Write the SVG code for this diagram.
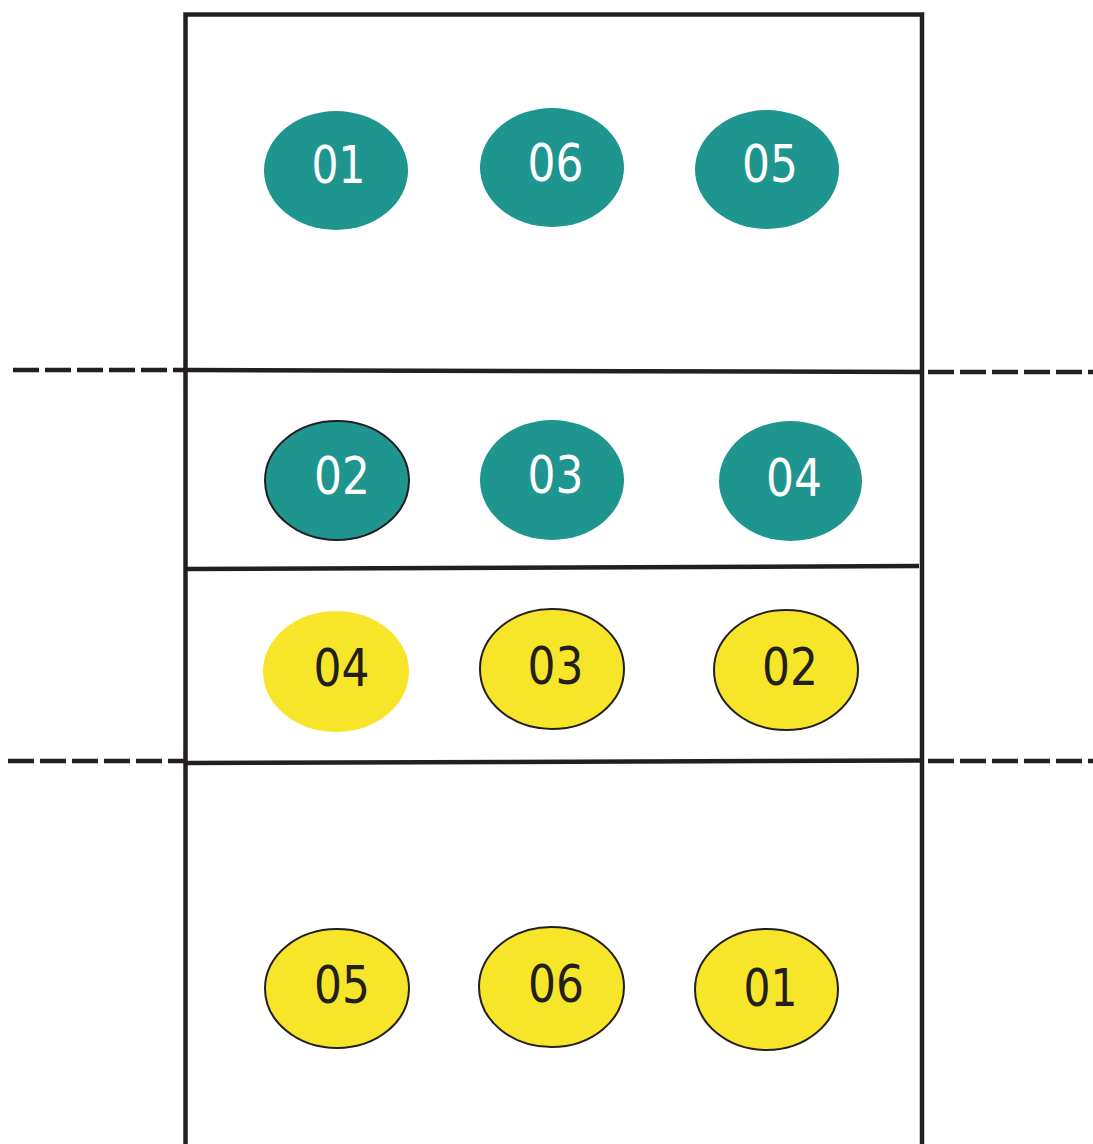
<svg xmlns="http://www.w3.org/2000/svg" width="1093" height="1144" viewBox="0 0 1093 1144">
<style>
.court{fill:none;stroke:#231F20;stroke-width:4.5;}
.dash{fill:none;stroke:#231F20;stroke-width:4.5;stroke-dasharray:26 6;}
.teal{fill:#1F958F;}
.yel{fill:#F7E52A;}
.ol{stroke:#231F20;stroke-width:2;}
.lbl{font-family:"DejaVu Sans",sans-serif;font-size:51px;text-anchor:middle;}
.w{fill:#FFFFFF;}
.d{fill:#231F20;}
</style>
<rect width="1093" height="1144" fill="#FFFFFF"/>
<g id="court">
<path class="court" d="M185.5 1150 V14.5 H922 V1150"/>
</g>
<g id="connectors">
<path class="court" d="M185.5 370 L922 372"/>
<path class="court" d="M185.5 569 L919 566"/>
<path class="court" d="M185.5 763 L922 760.5"/>
<path class="dash" d="M13 370 H185"/>
<path class="dash" d="M928 372 H1093"/>
<path class="dash" d="M8 761 H185"/>
<path class="dash" d="M928 761 H1093"/>
</g>
<g id="t01"><ellipse class="teal" cx="336" cy="170.5" rx="72" ry="59.5"/><text class="lbl w" x="338.5" y="183" textLength="54" lengthAdjust="spacingAndGlyphs">01</text></g>
<g id="t06"><ellipse class="teal" cx="552" cy="167.5" rx="72" ry="59.5"/><text class="lbl w" x="555.5" y="181" textLength="56" lengthAdjust="spacingAndGlyphs">06</text></g>
<g id="t05"><ellipse class="teal" cx="767" cy="169.5" rx="72" ry="59.5"/><text class="lbl w" x="770" y="182" textLength="56" lengthAdjust="spacingAndGlyphs">05</text></g>
<g id="t02"><ellipse class="teal ol" cx="337" cy="480.5" rx="72" ry="59.5"/><text class="lbl w" x="342" y="494" textLength="56" lengthAdjust="spacingAndGlyphs">02</text></g>
<g id="t03"><ellipse class="teal" cx="552" cy="480" rx="72" ry="60"/><text class="lbl w" x="555.5" y="493" textLength="56" lengthAdjust="spacingAndGlyphs">03</text></g>
<g id="t04"><ellipse class="teal" cx="790.5" cy="481" rx="71.5" ry="60"/><text class="lbl w" x="794" y="496" textLength="56" lengthAdjust="spacingAndGlyphs">04</text></g>
<g id="y04"><ellipse class="yel" cx="336" cy="671.5" rx="73" ry="60.5"/><text class="lbl d" x="341.5" y="686" textLength="56" lengthAdjust="spacingAndGlyphs">04</text></g>
<g id="y03"><ellipse class="yel ol" cx="552" cy="669" rx="72" ry="60"/><text class="lbl d" x="555.5" y="684" textLength="56" lengthAdjust="spacingAndGlyphs">03</text></g>
<g id="y02"><ellipse class="yel ol" cx="786" cy="670" rx="72" ry="60"/><text class="lbl d" x="790" y="685" textLength="56" lengthAdjust="spacingAndGlyphs">02</text></g>
<g id="y05"><ellipse class="yel ol" cx="337" cy="988.5" rx="72" ry="59.5"/><text class="lbl d" x="342" y="1003" textLength="56" lengthAdjust="spacingAndGlyphs">05</text></g>
<g id="y06"><ellipse class="yel ol" cx="551.5" cy="987" rx="72.5" ry="60"/><text class="lbl d" x="556" y="1002" textLength="56" lengthAdjust="spacingAndGlyphs">06</text></g>
<g id="y01"><ellipse class="yel ol" cx="766.5" cy="989.5" rx="71.5" ry="60.5"/><text class="lbl d" x="770.5" y="1006" textLength="54" lengthAdjust="spacingAndGlyphs">01</text></g>
</svg>
